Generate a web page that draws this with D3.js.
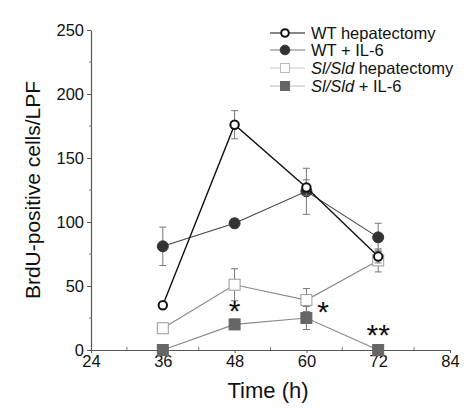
<!DOCTYPE html>
<html><head><meta charset="utf-8">
<script src="https://cdn.jsdelivr.net/npm/d3@7"></script>
<style>body{margin:0;background:#fff}svg{display:block;font-family:"Liberation Sans",Arial,sans-serif}</style>
</head><body><svg id="c" width="466" height="411"></svg>
<script>
const times = [36, 48, 60, 72];
const wtHep = [35, 176, 127, 73];
const wtHepErr = [0, 11, 6, 5];
const wtIL6 = [81, 99, 124, 88];
const wtIL6Err = [15, 3.5, 18, 11];
const slHep = [17, 51, 39, 70];
const slHepErr = [0, 12.5, 9, 9];
const slIL6 = [0, 20, 25, 0];
const slIL6Err = [0, 4, 9, 0];
const xTicks = [24, 36, 48, 60, 72, 84];
const yTicks = [0, 50, 100, 150, 200, 250];
const stars = [{t: 48, v: 32, s: "*"}, {t: 62.8, v: 31, s: "*"}, {t: 72, v: 13, s: "**"}];

const svg = d3.select("#c");
const x = d3.scaleLinear().domain([24, 84]).range([91, 450]);
const y = d3.scaleLinear().domain([0, 250]).range([350, 30]);

// axes
const ax = svg.append("g").attr("transform", "translate(0,350)")
  .call(d3.axisBottom(x).tickValues(xTicks).tickSize(3).tickPadding(2).tickSizeOuter(0));
const ay = svg.append("g").attr("transform", "translate(91,0)")
  .call(d3.axisLeft(y).tickValues(yTicks).tickSize(4).tickPadding(3).tickSizeOuter(0));
[ax, ay].forEach(g => {
  g.select(".domain").attr("stroke", "#555").attr("stroke-width", 1.2);
  g.selectAll(".tick line").attr("stroke", "#555");
  g.selectAll("text").attr("font-size", 16.5).attr("fill", "#111").attr("font-family", '"Liberation Sans",Arial,sans-serif');
});
// minor ticks
svg.append("g").selectAll("line").data([30, 42, 54, 66, 78]).join("line")
  .attr("x1", d => x(d)).attr("x2", d => x(d)).attr("y1", 350).attr("y2", 347).attr("stroke", "#777");
svg.append("g").selectAll("line").data([25, 75, 125, 175, 225]).join("line")
  .attr("x1", 89).attr("x2", 92).attr("y1", d => y(d)).attr("y2", d => y(d)).attr("stroke", "#777");

// labels
svg.append("text").attr("x", 268).attr("y", 398).attr("text-anchor", "middle")
  .attr("font-size", 22).attr("fill", "#111").text("Time (h)");
svg.append("text").attr("transform", "translate(40,190) rotate(-90)").attr("text-anchor", "middle")
  .attr("font-size", 21).attr("fill", "#111").text("BrdU-positive cells/LPF");

const series = [
  {name: "WT hepatectomy", v: wtHep, e: wtHepErr, line: "#111", lw: 1.4, shape: "circle", fill: "#fff", stroke: "#111", sw: 2, r: 4.2},
  {name: "WT + IL-6", v: wtIL6, e: wtIL6Err, line: "#444", lw: 1.1, shape: "circle", fill: "#333", stroke: "#333", sw: 1, r: 5.5},
  {name: "hepatectomy", v: slHep, e: slHepErr, line: "#888", lw: 1.1, shape: "square", fill: "#fff", stroke: "#999", sw: 1, r: 5.5},
  {name: "+ IL-6", v: slIL6, e: slIL6Err, line: "#888", lw: 1.1, shape: "square", fill: "#666", stroke: "#666", sw: 1, r: 5.5}
];

const order = [3, 2, 1, 0];
order.forEach(i => {
  const s = series[i];
  const g = svg.append("g");
  const pts = times.map((t, k) => ({t, v: s.v[k], e: s.e[k]}));
  g.append("path").datum(pts).attr("fill", "none").attr("stroke", s.line).attr("stroke-width", s.lw)
    .attr("d", d3.line().x(d => x(d.t)).y(d => y(d.v)));
  const eb = g.selectAll("g.eb").data(pts.filter(d => d.e > 0)).join("g");
  eb.append("line").attr("x1", d => x(d.t)).attr("x2", d => x(d.t))
    .attr("y1", d => y(d.v - d.e)).attr("y2", d => y(d.v + d.e)).attr("stroke", "#777").attr("stroke-width", 1);
  [-1, 1].forEach(sg => eb.append("line").attr("x1", d => x(d.t) - 3.5).attr("x2", d => x(d.t) + 3.5)
    .attr("y1", d => y(d.v + sg * d.e)).attr("y2", d => y(d.v + sg * d.e)).attr("stroke", "#777").attr("stroke-width", 1));
  drawMarkers(g, pts.map(d => [x(d.t), y(d.v)]), s);
});

function drawMarkers(g, xy, s) {
  if (s.shape === "circle") {
    g.selectAll("circle.m").data(xy).join("circle").attr("cx", d => d[0]).attr("cy", d => d[1]).attr("r", s.r)
      .attr("fill", s.fill).attr("stroke", s.stroke).attr("stroke-width", s.sw);
  } else {
    g.selectAll("rect.m").data(xy).join("rect").attr("x", d => d[0] - s.r).attr("y", d => d[1] - s.r)
      .attr("width", 2 * s.r).attr("height", 2 * s.r)
      .attr("fill", s.fill).attr("stroke", s.stroke).attr("stroke-width", s.sw);
  }
}

// asterisks
svg.append("g").selectAll("text").data(stars).join("text")
  .attr("x", d => x(d.t)).attr("y", d => y(d.v) + 12).attr("text-anchor", "middle")
  .attr("font-size", 30).attr("fill", "#111").text(d => d.s);

// legend
const legendLine = ["#111", "#777", "#ccc", "#bbb"];
const ly = [33, 50, 68, 86];
series.forEach((s, i) => {
  const g = svg.append("g");
  g.append("line").attr("x1", 270).attr("x2", 305).attr("y1", ly[i]).attr("y2", ly[i])
    .attr("stroke", legendLine[i]).attr("stroke-width", 1.2);
  const ms = Object.assign({}, s, {r: s.shape === "circle" ? (i === 0 ? 3.8 : 4.8) : 4.5});
  if (i === 2) ms.stroke = "#bbb";
  drawMarkers(g, [[285, ly[i]]], ms);
  const t = g.append("text").attr("x", 311).attr("y", ly[i] + 6).attr("font-size", 16.5).attr("fill", "#111");
  if (i >= 2) {
    t.append("tspan").attr("font-style", "italic").text("Sl/Sld");
    t.append("tspan").text(" " + s.name);
  } else t.text(s.name);
});
</script></body></html>
